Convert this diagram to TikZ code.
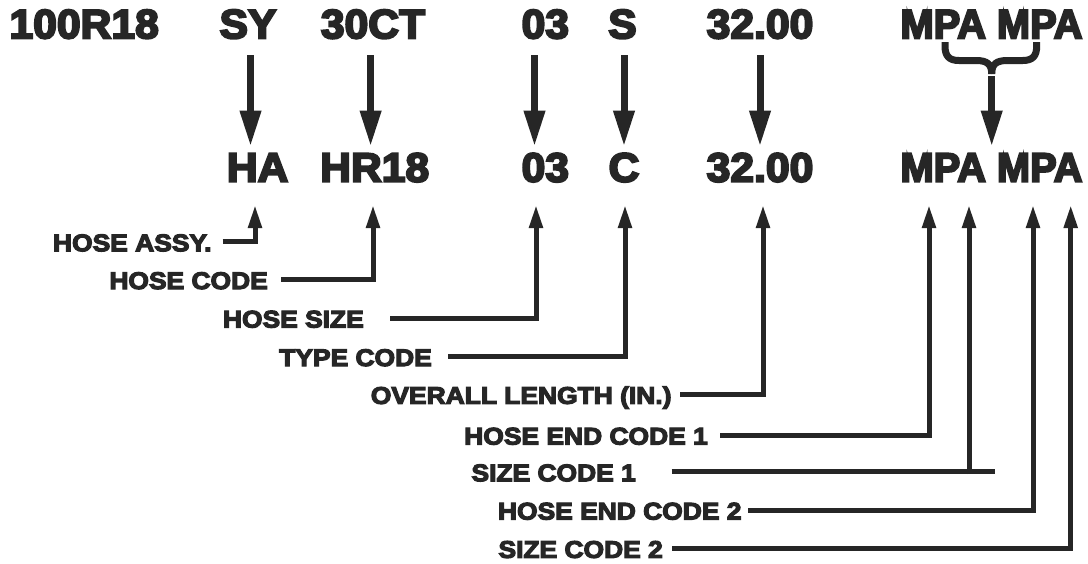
\documentclass[tikz,border=0pt]{standalone}
\usepackage{fontspec}
\usetikzlibrary{arrows.meta}
\newfontfamily\bigfont{Liberation Sans}[UprightFont={* Bold},FakeBold=5,FakeStretch=1.04]
\newfontfamily\mpafont{Liberation Sans}[UprightFont={* Bold},FakeBold=5,FakeStretch=0.97]
\newfontfamily\labfont{Liberation Sans}[UprightFont={* Bold},FakeBold=5,FakeStretch=1.1]
\definecolor{ink}{RGB}{38,38,38}
\begin{document}
\begin{tikzpicture}[x=1pt,y=-1pt,
  code/.style={font=\bigfont\fontsize{41}{48}\selectfont, inner sep=0pt, anchor=base, text=ink},
  mpa/.style={code, font=\mpafont\fontsize{41}{48}\selectfont},
  lab/.style={font=\labfont\fontsize{24}{28}\selectfont, inner sep=0pt, anchor=east, text=ink, text height=19pt, text depth=0pt},
  down/.style={draw=ink, line width=7pt, -{Triangle[length=36pt,width=20pt]}},
  up/.style={draw=ink, line width=5pt, -{Triangle[length=23pt,width=13pt]}},
  lead/.style={draw=ink, line width=5pt},
  bracestyle/.style={draw=ink, line width=7pt},
]
\useasboundingbox[fill=white] (0,0) rectangle (1088,563);

% top row
\node[code] (a1) at (84.2,38.3) {100R18};
\node[code] (a2) at (248,38.3) {SY};
\node[code] (a3) at (373,38.3) {30CT};
\node[code] (a4) at (545.3,38.3) {03};
\node[code] (a5) at (622.5,38.3) {S};
\node[code] (a6) at (760,38.3) {32.00};
\node[mpa] (a7) at (991.5,38.3) {MPA MPA};

% bottom row
\node[code] (b2) at (257.6,181.7) {HA};
\node[code] (b3) at (374.7,181.7) {HR18};
\node[code] (b4) at (545.3,181.7) {03};
\node[code] (b5) at (624,181.7) {C};
\node[code] (b6) at (760,181.7) {32.00};
\node[mpa] (b7) at (991.5,181.7) {MPA MPA};

% down arrows
\coordinate (d2s) at (250.5,55);  \coordinate (d2e) at (250.5,146.5);
\coordinate (d3s) at (370.6,55);  \coordinate (d3e) at (370.6,146.5);
\coordinate (d4s) at (534.5,55);  \coordinate (d4e) at (534.5,146.5);
\coordinate (d5s) at (624,55);    \coordinate (d5e) at (624,146.5);
\coordinate (d6s) at (760,55);    \coordinate (d6e) at (760,146.5);
\draw[down] (d2s) -- (d2e);
\draw[down] (d3s) -- (d3e);
\draw[down] (d4s) -- (d4e);
\draw[down] (d5s) -- (d5e);
\draw[down] (d6s) -- (d6e);

% brace
\coordinate (bj) at (991.7,74);
\coordinate (btip) at (991.7,146.5);
\draw[bracestyle] (945,42) -- (945,46) .. controls (945,56) and (949,60.5) .. (959,60.5) -- (976,60.5) .. controls (987,60.5) and (991.7,64) .. (bj);
\draw[bracestyle] (1036.7,42) -- (1036.7,46) .. controls (1036.7,56) and (1032.7,60.5) .. (1022.7,60.5) -- (1007.4,60.5) .. controls (996.4,60.5) and (991.7,64) .. (bj);
\draw[down] ([yshift=-2pt]bj) -- (btip);

% labels
\node[lab] (l1) at (211.7,241.7) {HOSE ASSY.};
\node[lab] (l2) at (268,279.5) {HOSE CODE};
\node[lab] (l3) at (364,318) {HOSE SIZE};
\node[lab] (l4) at (432,356.5) {TYPE CODE};
\node[lab] (l5) at (671.7,394.3) {OVERALL LENGTH (IN.)};
\node[lab] (l6) at (708,435) {HOSE END CODE 1};
\node[lab] (l7) at (636,471.7) {SIZE CODE 1};
\node[lab] (l8) at (741.7,510) {HOSE END CODE 2};
\node[lab] (l9) at (663,548.3) {SIZE CODE 2};

% arrow targets under the bottom row
\coordinate (t1) at (255,205);
\coordinate (t2) at (373,205);
\coordinate (t3) at (536,205);
\coordinate (t4) at (625,205);
\coordinate (t5) at (763,205);
\coordinate (t6) at (929,205);
\coordinate (t7) at (969,205);
\coordinate (t8) at (1033,205);
\coordinate (t9) at (1070.7,205);
\coordinate (e7) at (995,471.7);

\draw[up] ([xshift=11pt]l1.east) -| (t1);
\draw[up] ([xshift=13pt]l2.east) -| (t2);
\draw[up] ([xshift=26pt]l3.east) -| (t3);
\draw[up] ([xshift=16pt]l4.east) -| (t4);
\draw[up] ([xshift=8.3pt]l5.east) -| (t5);
\draw[up] ([xshift=12pt]l6.east) -| (t6);
\draw[lead] ([xshift=35.7pt]l7.east) -- (e7);
\draw[up] (e7 -| t7) ++(0,2.5) -- (t7);
\draw[up] ([xshift=6.3pt]l8.east) -| (t8);
\draw[up] ([xshift=9pt]l9.east) -| (t9);
\end{tikzpicture}
\end{document}
